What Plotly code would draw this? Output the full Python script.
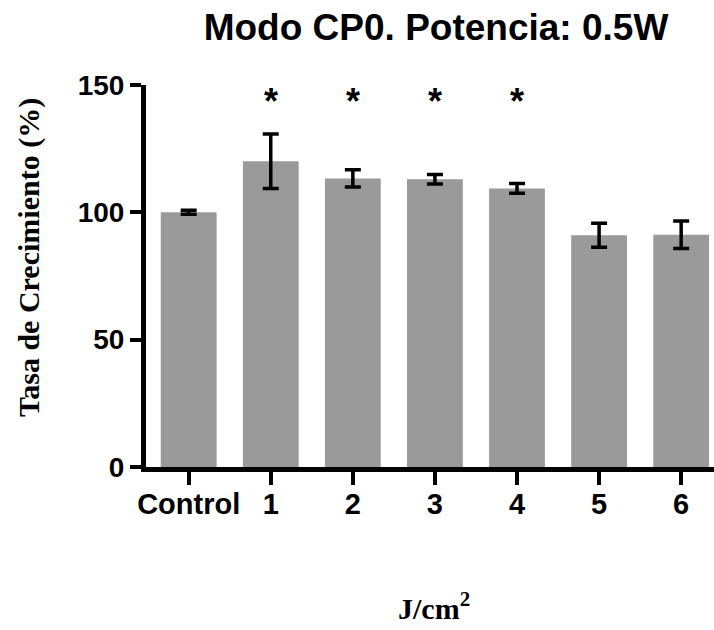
import plotly.graph_objects as go

categories = ["Control", "1", "2", "3", "4", "5", "6"]
values = [100, 120.1, 113.3, 113.0, 109.4, 91.0, 91.2]
errors = [0.8, 10.7, 3.4, 1.9, 1.9, 4.7, 5.4]
significant = ["1", "2", "3", "4"]
star_level = 143.5

title_text = "Modo CP0. Potencia: 0.5W"
y_title = "Tasa de Crecimiento (%)"
x_title = "J/cm<sup>2</sup>"
y_ticks = [0, 50, 100, 150]

W, H = 714, 630
L, R, T, B = 146, 0, 85, 163
pw = W - L - R
ph = H - T - B

sans = "Liberation Sans, Arial, sans-serif"
serif = "Liberation Serif, Times New Roman, serif"

fig = go.Figure()
fig.add_trace(go.Bar(
    x=categories, y=values,
    marker=dict(color="#9a9a9a", line=dict(width=0)),
    error_y=dict(type="data", array=errors, visible=True,
                 color="black", thickness=3.5, width=8),
    width=0.68,
))

for c in significant:
    fig.add_annotation(x=c, y=star_level, text="*", showarrow=False,
                       font=dict(family=sans, size=36, color="black", weight="bold"),
                       xanchor="center", yanchor="middle")

fig.add_annotation(xref="paper", yref="paper",
                   x=(29 - L) / pw, y=(H - B - 258) / ph,
                   text=y_title, textangle=-90, showarrow=False,
                   font=dict(family=serif, size=30, color="black", weight="bold"),
                   xanchor="center", yanchor="middle")
fig.add_annotation(xref="paper", yref="paper",
                   x=(434 - L) / pw, y=-(606 - (H - B)) / ph,
                   text=x_title, showarrow=False,
                   font=dict(family=serif, size=30, color="black", weight="bold"),
                   xanchor="center", yanchor="middle")

fig.update_layout(
    width=W, height=H,
    margin=dict(l=L, r=R, t=T, b=B),
    paper_bgcolor="white", plot_bgcolor="white",
    showlegend=False,
    title=dict(text=title_text, x=436 / W, xref="container", xanchor="center",
               y=1 - 27 / H, yref="container", yanchor="middle",
               font=dict(family=sans, size=37, color="black", weight="bold")),
    xaxis=dict(type="category", range=[-0.52, 6.4],
               showline=True, linecolor="black", linewidth=5,
               ticks="outside", ticklen=13, tickwidth=4, tickcolor="black",
               ticklabelstandoff=-6,
               showgrid=False, zeroline=False,
               tickfont=dict(family=sans, size=29, color="black", weight="bold")),
    yaxis=dict(range=[0, 150], tickvals=y_ticks,
               showline=True, linecolor="black", linewidth=5,
               ticks="outside", ticklen=11, tickwidth=4, tickcolor="black",
               showgrid=False, zeroline=False,
               tickfont=dict(family=sans, size=28, color="black", weight="bold")),
)

fig.write_html("out.html")
